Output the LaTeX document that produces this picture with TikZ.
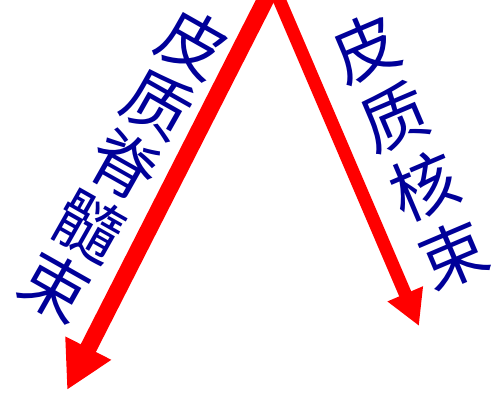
\documentclass[tikz,border=0pt]{standalone}
\usepackage{fontspec}
\newfontfamily\cjk{Noto Sans CJK SC}
\usetikzlibrary{arrows.meta}
\definecolor{arrred}{RGB}{255,0,0}
\definecolor{txtblue}{RGB}{0,0,153}
\begin{document}
\begin{tikzpicture}[x=1pt,y=-1pt,
  tractlabel/.style={text=txtblue, font=\cjk\fontsize{67}{70}\selectfont, align=center, inner sep=0pt},
  bigarrow/.style={draw=arrred, line width=17pt, -{Triangle[length=47pt,width=48pt]}},
  smallarrow/.style={draw=arrred, line width=13pt, -{Triangle[length=35pt,width=36pt]}},
 ]
\useasboundingbox (0,0) rectangle (491,392);
\begin{scope}
\clip (0,0) rectangle (491,392);
\coordinate (apex) at (273,-15);
\coordinate (leftend) at (67,390);
\coordinate (rightend) at (419,326);
\draw[bigarrow] (apex) -- (leftend);
\draw[smallarrow] (apex) -- (rightend);
\end{scope}
\node[tractlabel, rotate=-29.5] (leftlabel) at (124,165) {皮\\质\\脊\\髓\\束};
\node[tractlabel, font=\cjk\fontsize{67}{75}\selectfont, rotate=23] (rightlabel) at (409.5,151) {皮\\质\\核\\束};
\end{tikzpicture}
\end{document}
